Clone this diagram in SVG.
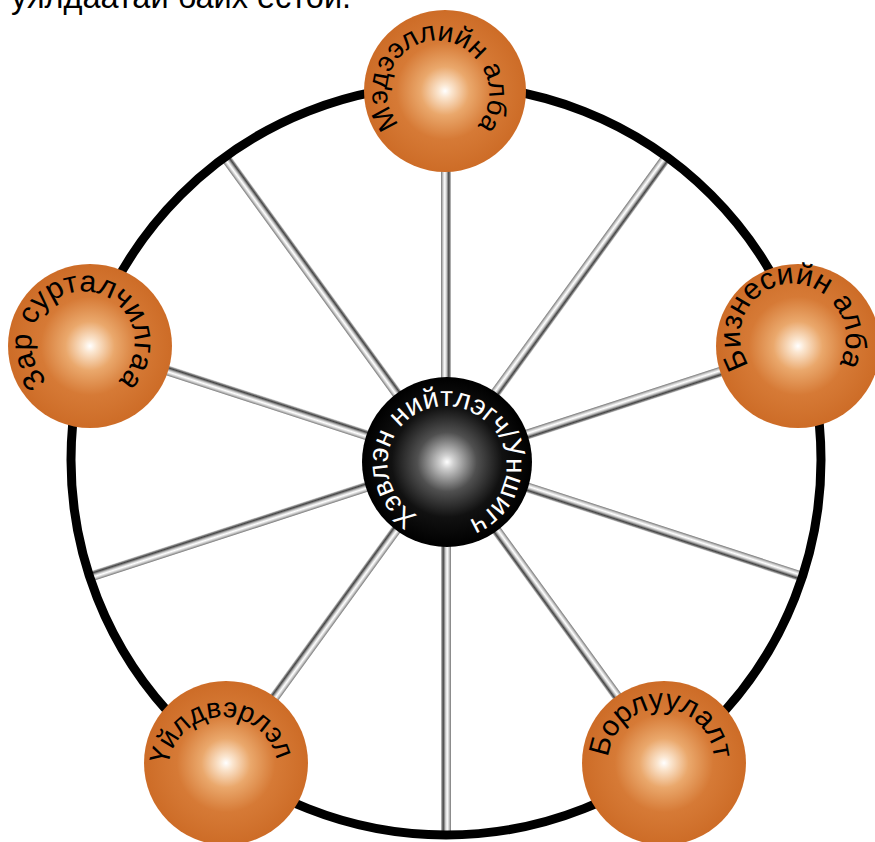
<svg xmlns="http://www.w3.org/2000/svg" width="875" height="842" viewBox="0 0 875 842">
<defs>
<radialGradient id="gOrange" cx="0.5" cy="0.5" r="0.5">
<stop offset="0" stop-color="#ffffff"/>
<stop offset="0.08" stop-color="#fbe6d0"/>
<stop offset="0.3" stop-color="#eaa86c"/>
<stop offset="0.6" stop-color="#d67a36"/>
<stop offset="1" stop-color="#cd6c27"/>
</radialGradient>
<radialGradient id="gBlack" cx="0.5" cy="0.5" r="0.5">
<stop offset="0" stop-color="#ffffff"/>
<stop offset="0.08" stop-color="#cfcfcf"/>
<stop offset="0.35" stop-color="#505050"/>
<stop offset="0.65" stop-color="#111111"/>
<stop offset="1" stop-color="#000000"/>
</radialGradient>
<linearGradient id="gSpoke" x1="0" y1="0" x2="0" y2="1">
<stop offset="0" stop-color="#777777"/>
<stop offset="0.2" stop-color="#cccccc"/>
<stop offset="0.38" stop-color="#ffffff"/>
<stop offset="0.55" stop-color="#c8c8c8"/>
<stop offset="0.78" stop-color="#444444"/>
<stop offset="0.9" stop-color="#8a8a8a"/>
<stop offset="1" stop-color="#cccccc"/>
</linearGradient>
<path id="pTop" d="M399.7 124.1 A50 50 0 1 1 476.3 59.9 A50 50 0 1 1 399.7 124.1"/>
<path id="pRight" d="M749.4 365.3 A52 52 0 1 1 836.6 308.7 A52 52 0 1 1 749.4 365.3"/>
<path id="pLeft" d="M47.9 380.7 A51.5 51.5 0 1 1 118.1 305.3 A51.5 51.5 0 1 1 47.9 380.7"/>
<path id="pBL" d="M168.4 765.3 A55 55 0 1 1 277.6 778.7 A55 55 0 1 1 168.4 765.3"/>
<path id="pBR" d="M608.3 757.5 A53 53 0 1 1 713.7 768.5 A53 53 0 1 1 608.3 757.5"/>
<path id="pCenter" d="M418 515.2 A58 58 0 1 1 476 414.8 A58 58 0 1 1 418 515.2"/>
</defs>
<style>
.lbl{font-family:"Liberation Sans",Arial,sans-serif;font-size:28px;fill:#000}
.clbl{font-family:"Liberation Sans",Arial,sans-serif;font-size:28px;fill:#fff}
.orb{fill:url(#gOrange)}
.spoke{fill:url(#gSpoke)}
.rim{fill:none;stroke:#000;stroke-width:9}
</style>
<text x="11" y="8" style="font-family:'Liberation Sans',Arial,sans-serif;font-size:32.5px;fill:#000">уялдаатай байх ёстой.</text>
<g id="connectors">
<g transform="translate(446 461)">
<rect class="spoke" x="0" y="-5" width="372" height="10" transform="rotate(-90)"/>
<rect class="spoke" x="0" y="-5" width="372" height="10" transform="rotate(-54)"/>
<rect class="spoke" x="0" y="-5" width="372" height="10" transform="rotate(-18)"/>
<rect class="spoke" x="0" y="-5" width="372" height="10" transform="rotate(18)"/>
<rect class="spoke" x="0" y="-5" width="372" height="10" transform="rotate(54)"/>
<rect class="spoke" x="0" y="-5" width="372" height="10" transform="rotate(90)"/>
<rect class="spoke" x="0" y="-5" width="372" height="10" transform="rotate(126)"/>
<rect class="spoke" x="0" y="-5" width="372" height="10" transform="rotate(162)"/>
<rect class="spoke" x="0" y="-5" width="372" height="10" transform="rotate(198)"/>
<rect class="spoke" x="0" y="-5" width="372" height="10" transform="rotate(234)"/>
</g>
<circle id="rim" class="rim" cx="446" cy="460" r="375"/>
</g>
<g id="center">
<circle cx="447" cy="462" r="85" fill="url(#gBlack)"/>
<text class="clbl"><textPath href="#pCenter">Хэвлэн нийтлэгч/Уншигч</textPath></text>
</g>
<g id="n-top">
<circle class="orb" cx="445" cy="91" r="81"/>
<text class="lbl"><textPath href="#pTop">Мэдээллийн алба</textPath></text>
</g>
<g id="n-right">
<circle class="orb" cx="798" cy="346" r="82"/>
<text class="lbl" style="font-size:30px"><textPath href="#pRight">Бизнесийн алба</textPath></text>
</g>
<g id="n-left">
<circle class="orb" cx="90" cy="346" r="82"/>
<text class="lbl" style="font-size:30px"><textPath href="#pLeft">Зар сурталчилгаа</textPath></text>
</g>
<g id="n-bl">
<circle class="orb" cx="226" cy="763" r="82"/>
<text class="lbl"><textPath href="#pBL">Үйлдвэрлэл</textPath></text>
</g>
<g id="n-br">
<circle class="orb" cx="664" cy="763" r="82"/>
<text class="lbl" style="font-size:29px"><textPath href="#pBR">Борлуулалт</textPath></text>
</g>
</svg>
